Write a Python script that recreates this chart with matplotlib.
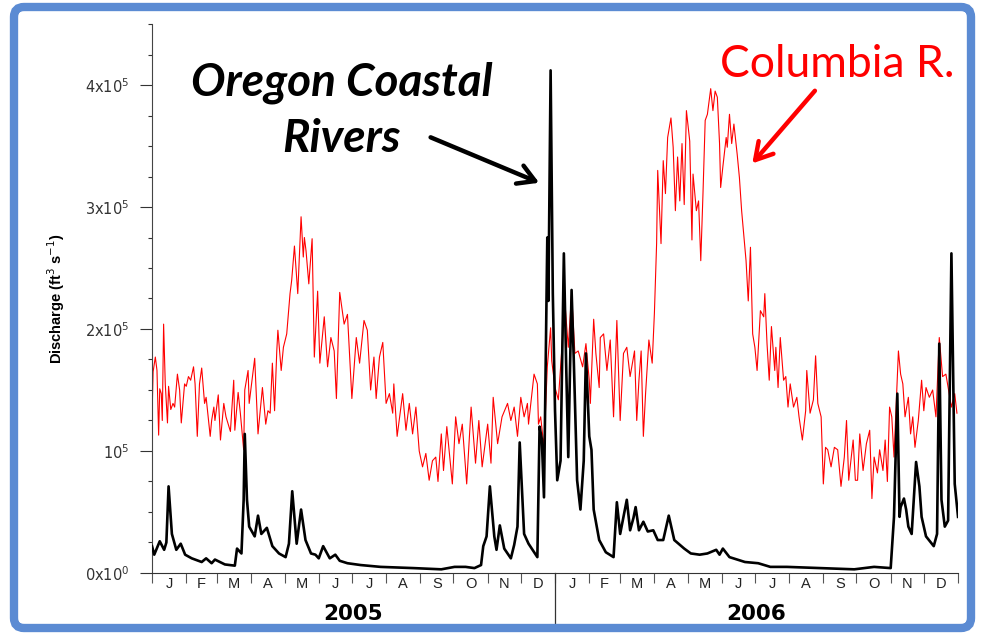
import numpy as np
import matplotlib
matplotlib.use("Agg")
import matplotlib.pyplot as plt
from matplotlib.patches import FancyBboxPatch
from matplotlib.ticker import FixedLocator, NullFormatter, FixedFormatter

# Tagesabstand ab 1.1.2005, Abfluss in 1000 ft3/s
red_day = [0, 1, 3, 4.5, 6, 7, 8.4, 9.3, 10.5, 12, 14, 15, 17, 19, 20.5, 23, 25, 26.5, 28, 29.5,
           31, 33, 35, 37.6, 39, 41, 43, 45, 47.6, 49, 52.7, 54, 56, 57, 60, 62, 65, 67, 68.7, 71,
           74, 75, 78, 80, 83, 84, 87, 88, 93, 96, 100, 103, 105, 107, 109, 111, 113, 114, 117, 119,
           122, 125, 126.5, 129, 132, 135, 137, 138, 139.5, 142, 145, 147, 150, 152, 156, 159, 162, 165, 167, 170,
           174, 177, 181, 185, 188, 192, 195, 198, 201, 203, 206, 209, 212, 215, 218, 219, 222, 227, 230, 233,
           236, 239, 242, 245, 248, 251, 254, 257, 259, 262, 264, 267, 272, 275, 278, 281, 285, 289, 293, 296,
           299, 304, 307, 309, 313, 317, 322, 325, 328, 331, 334, 337, 340, 341, 346, 349, 350, 352, 355, 358,
           361, 362,
           365, 368, 371, 374, 377, 380, 383, 386, 390, 393, 396, 397, 400, 402, 405, 406, 409, 412, 415, 418,
           421, 424, 427, 430, 433, 437, 439, 441, 443, 445, 447, 450, 453, 455, 457, 458, 461, 463, 465, 467,
           470, 472, 474, 476, 478, 480, 482, 484, 487, 489, 490, 493, 495, 497, 499, 501, 503, 506, 508, 510,
           512, 514, 515, 517, 520, 521, 523, 525, 527, 530, 532, 534, 537, 538, 540, 542, 544, 546, 548, 551,
           554, 555, 557, 559, 561, 564, 565, 567, 569, 572, 574, 576, 578, 581, 584, 586, 589, 592, 593, 596,
           599, 601, 603, 606, 608, 610, 612, 615, 618, 621, 624, 627, 629, 631, 635, 637, 639, 641, 644, 647,
           650, 652, 654, 657, 659, 662, 664, 666, 668, 670, 672, 676, 678, 680, 682, 685, 687, 689, 691, 694,
           697, 699, 701, 704, 707, 710, 713, 716, 719, 721, 724, 727, 729]
red_k = [128, 165, 177, 166, 113, 151, 147, 125, 204, 155, 123, 153, 134, 139, 136, 163, 150, 123, 139, 155,
         153, 161, 158, 169, 155, 112, 155, 168, 139, 144, 112, 125, 136, 125, 146, 109, 139, 128, 123, 116,
         158, 117, 148, 131, 101, 150, 166, 139, 176, 114, 152, 122, 133, 131, 172, 133, 182, 199, 166, 185,
         196, 229, 240, 268, 229, 292, 259, 275, 264, 237, 274, 177, 231, 172, 210, 169, 193, 182, 143, 230,
         204, 212, 143, 193, 172, 207, 199, 150, 177, 143, 177, 189, 139, 147, 131, 155, 112, 147, 117, 139,
         114, 136, 100, 87, 98, 76, 92, 95, 75, 114, 84, 120, 73, 128, 106, 122, 73, 136, 90, 125,
         87, 122, 90, 144, 106, 128, 139, 125, 136, 112, 144, 128, 139, 122, 163, 155, 122, 128, 103, 169,
         201, 174,
         152, 142, 182, 221, 185, 229, 180, 182, 169, 188, 158, 139, 208, 180, 152, 193, 196, 166, 191, 128,
         207, 125, 180, 185, 161, 182, 125, 158, 182, 112, 147, 191, 172, 213, 270, 330, 270, 338, 311, 357,
         373, 349, 297, 341, 305, 352, 302, 379, 354, 273, 327, 297, 305, 256, 311, 371, 376, 397, 379, 395,
         390, 352, 316, 333, 357, 349, 376, 352, 368, 343, 324, 297, 267, 256, 223, 267, 196, 185, 166, 215,
         210, 229, 188, 158, 202, 166, 185, 152, 193, 158, 161, 136, 155, 136, 144, 128, 109, 133, 166, 131,
         142, 178, 139, 128, 73, 103, 101, 87, 103, 101, 71, 95, 125, 76, 109, 76, 76, 114, 84, 106,
         117, 61, 95, 82, 101, 84, 109, 75, 136, 128, 95, 182, 163, 155, 128, 144, 114, 128, 103, 125,
         158, 133, 152, 144, 150, 128, 193, 161, 163, 152, 136, 147, 131]

black_day = [0, 2, 7, 11, 13, 15, 18, 22, 26, 30, 36, 45, 49, 54, 57, 66, 75, 77, 81, 83,
             84, 86, 88, 93, 96, 99, 104, 109, 115, 121, 124, 127, 131, 135, 139, 144, 148, 151, 155, 161,
             166, 170, 177, 189, 207, 237, 262, 274, 284, 292, 298, 300, 303, 306, 310, 312, 315, 319, 325, 328,
             331, 333, 337, 341, 349, 351, 353, 355, 358, 359, 361, 363,
             365, 367, 370, 373, 375, 377, 380, 382, 385, 388, 391, 393, 396, 398, 400, 405, 411, 418, 421, 424,
             430, 433, 436, 438, 441, 445, 449, 454, 458, 463, 468, 473, 482, 488, 496, 503, 511, 514, 517, 523,
             537, 549, 560, 575, 606, 636, 654, 669, 672, 675, 677, 678, 681, 683, 685, 688, 692, 695, 697, 701,
             708, 711, 713, 715, 718, 721, 724, 727, 730]
black_k = [22, 15, 26, 19, 25, 71, 32, 19, 24, 15, 12, 9, 12, 8, 11, 7, 6, 20, 16, 60,
           114, 60, 38, 30, 47, 32, 37, 22, 16, 13, 24, 67, 24, 52, 27, 16, 15, 12, 22, 12,
           15, 10, 8, 6.5, 5, 4, 3, 5, 5, 4, 6.5, 22, 30, 71, 30, 19, 39, 20, 12, 23,
           38, 107, 32, 24, 13, 120, 110, 62, 275, 223, 412, 229,
           133, 76, 92, 262, 174, 95, 232, 174, 76, 52, 92, 180, 112, 101, 52, 27, 17, 13, 58, 32,
           60, 35, 45, 54, 35, 42, 34, 35, 27, 27, 47, 27, 20, 16, 15, 16, 19, 15, 20, 13,
           9, 8, 5, 5, 4, 3, 5, 4, 46, 147, 46, 54, 61, 52, 38, 32, 91, 71, 46, 30,
           22, 32, 188, 60, 38, 43, 262, 73, 46]

month_starts = [0, 31, 59, 90, 120, 151, 181, 212, 243, 273, 304, 334]
month_letters = ["J", "F", "M", "A", "M", "J", "J", "A", "S", "O", "N", "D"]
years = ["2005", "2006"]
ytick_vals = [0, 100000, 200000, 300000, 400000]
ytick_labels = ["0x10$^0$", "10$^5$", "2x10$^5$", "3x10$^5$", "4x10$^5$"]

plt.rcParams["font.family"] = ["Liberation Sans", "DejaVu Sans"]
plt.rcParams["mathtext.fontset"] = "dejavusans"

fig = plt.figure(figsize=(9.82, 6.37), dpi=100)
ax = fig.add_axes([0.1548, 0.1005, 0.8208, 0.8618])

ax.plot(np.array(red_day), np.array(red_k) * 1000, color="#ff0000", lw=0.8, zorder=2)
ax.plot(np.array(black_day), np.array(black_k) * 1000, color="black", lw=1.9, zorder=3)

ax.set_xlim(0, 730)
ax.set_ylim(0, 450000)

# y-Achse
ax.yaxis.set_major_locator(FixedLocator(ytick_vals))
ax.yaxis.set_major_formatter(FixedFormatter(ytick_labels))
ax.yaxis.set_minor_locator(FixedLocator(np.arange(0, 450001, 25000)))
ax.tick_params(axis="y", which="major", direction="out", length=9, width=0.8,
               colors="#333333", labelsize=10.5, pad=7, labelfontfamily="DejaVu Sans")
ax.tick_params(axis="y", which="minor", direction="out", length=3, width=0.8, colors="#333333")
ax.set_ylabel("Discharge (ft$^3$ s$^{-1}$)", fontsize=10.5, fontweight="bold",
              family=["Liberation Sans Narrow", "Liberation Sans"])
ax.yaxis.set_label_coords(-0.105, 0.5)

# x-Achse: Monatsgrenzen als Striche, Buchstaben in der Mitte
bounds = [m + 365 * k for k in range(2) for m in month_starts] + [730]
mids = [(bounds[i] + bounds[i + 1]) / 2 for i in range(len(bounds) - 1)]
ax.xaxis.set_major_locator(FixedLocator(bounds))
ax.xaxis.set_major_formatter(NullFormatter())
ax.xaxis.set_minor_locator(FixedLocator(mids))
ax.xaxis.set_minor_formatter(FixedFormatter(month_letters * 2))
ax.tick_params(axis="x", which="major", direction="out", length=7, width=0.8, color="#555555")
ax.tick_params(axis="x", which="minor", length=0, pad=3, labelsize=10.5, labelcolor="#222222")

for s in ["top", "right"]:
    ax.spines[s].set_visible(False)
ax.spines["left"].set_color("#444444")
ax.spines["bottom"].set_color("#333333")

# Jahresbeschriftung und Trennlinie
xt = ax.get_xaxis_transform()
ax.plot([365, 365], [0, -0.1], transform=xt, color="#333333", lw=0.9, clip_on=False)
for k, yr in enumerate(years):
    ax.text(182.5 + 365 * k, -0.075, yr, transform=xt, ha="center", va="center",
            fontsize=15.5, fontweight="bold", family=["DejaVu Sans"])

# Beschriftungen mit Pfeilen
ax.text(172, 379000, "Oregon Coastal\nRivers", ha="center", va="center", fontsize=33,
        fontweight="bold", fontstyle="italic", family=["Lato", "DejaVu Sans"], linespacing=1.42)
ax.annotate("", xy=(353, 319000), xytext=(250, 358000),
            arrowprops=dict(arrowstyle="->,head_length=0.6,head_width=0.35", lw=3.2,
                            color="black", mutation_scale=20))
ax.text(621, 417000, "Columbia R.", ha="center", va="center", fontsize=32,
        color="#ff0000", family=["Lato", "DejaVu Sans"])
ax.annotate("", xy=(542, 334000), xytext=(602, 397000),
            arrowprops=dict(arrowstyle="->,head_length=0.6,head_width=0.35", lw=3.2,
                            color="#ff0000", mutation_scale=20))

# blauer Rahmen
frame = FancyBboxPatch((0.14, 0.09), 9.57, 6.21, boxstyle="round,pad=0,rounding_size=0.1",
                       transform=fig.dpi_scale_trans, facecolor="none",
                       edgecolor="#5b8bd3", lw=6)
fig.add_artist(frame)

fig.savefig("out.png", dpi=100)
